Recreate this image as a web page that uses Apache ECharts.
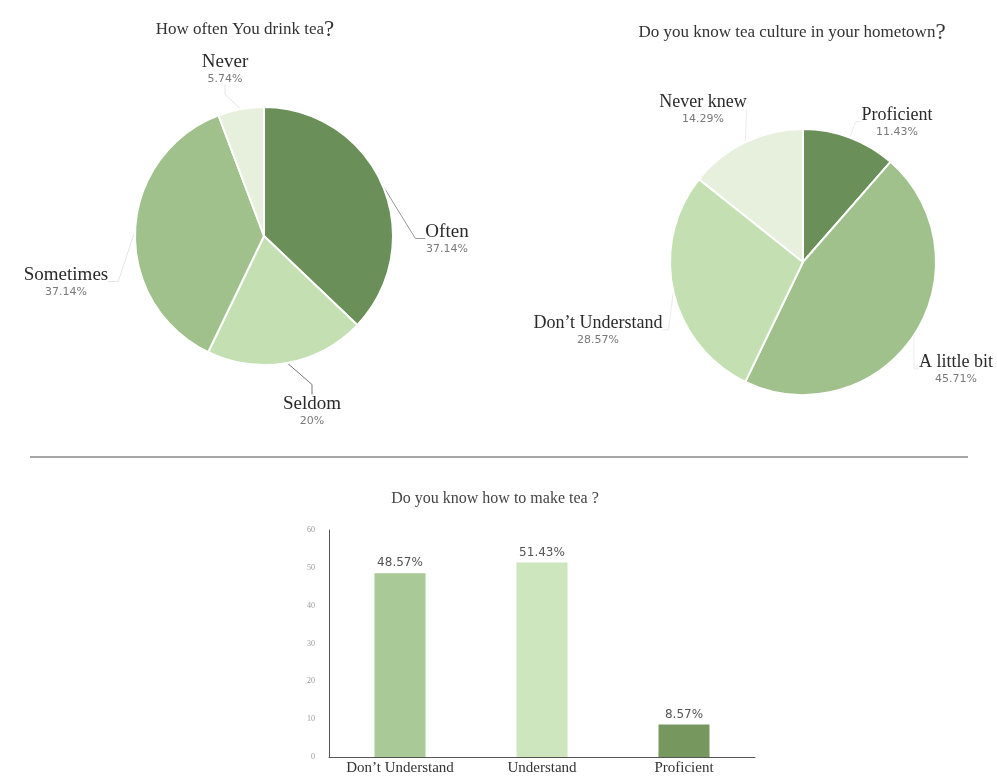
<!DOCTYPE html>
<html>
<head>
<meta charset="utf-8">
<script src="https://cdn.jsdelivr.net/npm/echarts@6/dist/echarts.min.js"></script>
<style>html,body{margin:0;padding:0;background:#fff;}#c{width:997px;height:778px;}</style>
</head>
<body>
<div id="c"></div>
<script>
// Pie 1: How often You drink tea?
const freqNames = ['Often', 'Seldom', 'Sometimes', 'Never'];
const freqValues = [37.14, 20, 37.14, 5.74];
// Pie 2: Do you know tea culture in your hometown?
const cultureNames = ['Proficient', 'A little bit', "Don\u2019t Understand", 'Never knew'];
const cultureValues = [11.43, 45.71, 28.57, 14.29];
// Bar: Do you know how to make tea ?
const makeCategories = ["Don\u2019t Understand", 'Understand', 'Proficient'];
const makeValues = [48.57, 51.43, 8.57];
const yTicks = [0, 10, 20, 30, 40, 50, 60];

// styling / layout (not data)
const dark = '#6b8f58', mid = '#a0c08c', light = '#c4dfb2', pale = '#e7f0dc';
const freqColors = [dark, light, mid, pale];
const cultureColors = [dark, mid, light, pale];
const barColors = ['#a9c996', '#cde6be', '#76985f'];
const freqLineColors = ['#999', '#777', '#e6e6e6', '#e6e6e6'];
const cultureLineColors = ['#ececec', '#ececec', '#ececec', '#ececec'];
const freqLabelPos = [[447, 222], [312, 394], [66, 265], [225, 52]];
const cultureLabelPos = [[897, 105], [956, 352], [598, 313], [703, 92]];

const serif = '"Liberation Serif", "DejaVu Serif", serif';
const sans = '"DejaVu Sans", sans-serif';

function pieLabel(size) {
  return {
    formatter: p => '{n|' + p.name + '}\n{p|' + p.value + '%}',
    overflow: 'none',
    rich: {
      n: { fontFamily: serif, fontSize: size, color: '#2a2a2a', lineHeight: 20, align: 'center' },
      p: { fontFamily: sans, fontSize: 11, color: '#7a7a7a', lineHeight: 14, align: 'center' }
    }
  };
}
function layoutFrom(pos) {
  return p => ({ x: pos[p.dataIndex][0], y: pos[p.dataIndex][1], align: 'center', verticalAlign: 'top' });
}

const titleRich = {
  t: { fontFamily: serif, fontSize: 17, color: '#333', fontWeight: 'normal' },
  q: { fontFamily: serif, fontSize: 23, color: '#333', fontWeight: 'normal' }
};

const chart = echarts.init(document.getElementById('c'), null, { renderer: 'canvas' });
chart.setOption({
  animation: false,
  backgroundColor: '#fff',
  title: [
    { text: '{t|How often You drink tea}{q|?}', left: 240, top: 13, textAlign: 'center',
      textStyle: { fontWeight: 'normal', rich: titleRich } },
    { text: '{t|Do you know tea culture in your hometown}{q|?}', left: 787, top: 16, textAlign: 'center',
      textStyle: { fontWeight: 'normal', rich: titleRich } },
    { text: 'Do you know how to make tea ?', left: 490, top: 486, textAlign: 'center',
      textStyle: { fontFamily: serif, fontSize: 16, fontWeight: 'normal', color: '#444' } }
  ],
  graphic: [
    { type: 'line', shape: { x1: 30, y1: 457, x2: 968, y2: 457 }, style: { stroke: '#8a8a8a', lineWidth: 1.5 } }
  ],
  grid: { left: 329, top: 530, width: 426, height: 227 },
  xAxis: {
    type: 'category', data: makeCategories,
    axisLine: { lineStyle: { color: '#555', width: 1 } },
    axisTick: { show: false },
    axisLabel: { fontFamily: serif, fontSize: 15, color: '#333', margin: 4 }
  },
  yAxis: {
    type: 'value', min: yTicks[0], max: yTicks[yTicks.length - 1], interval: yTicks[1] - yTicks[0],
    axisLine: { show: true, lineStyle: { color: '#555', width: 1 } },
    axisTick: { show: false },
    splitLine: { show: false },
    axisLabel: { fontFamily: serif, fontSize: 8, color: '#999', margin: 14 }
  },
  series: [
    {
      type: 'pie', center: [264, 236], radius: 129, startAngle: 90, clockwise: true,
      data: freqNames.map((n, i) => ({ name: n, value: freqValues[i], itemStyle: { color: freqColors[i] }, labelLine: { lineStyle: { color: freqLineColors[i] } } })),
      itemStyle: { borderColor: '#fff', borderWidth: 2 },
      label: pieLabel(19),
      labelLine: { length: 10, length2: 10, lineStyle: { width: 1 } },
      labelLayout: layoutFrom(freqLabelPos)
    },
    {
      type: 'pie', center: [803, 262], radius: 133, startAngle: 90, clockwise: true,
      data: cultureNames.map((n, i) => ({ name: n, value: cultureValues[i], itemStyle: { color: cultureColors[i] }, labelLine: { lineStyle: { color: cultureLineColors[i] } } })),
      itemStyle: { borderColor: '#fff', borderWidth: 2 },
      label: pieLabel(18),
      labelLine: { length: 8, length2: 6, lineStyle: { width: 1 } },
      labelLayout: layoutFrom(cultureLabelPos)
    },
    {
      type: 'bar', barWidth: 51,
      data: makeValues.map((v, i) => ({ value: v, itemStyle: { color: barColors[i] } })),
      label: { show: true, position: 'top', formatter: '{c}%', fontFamily: sans, fontSize: 12, color: '#555', distance: 4 }
    }
  ]
});
</script>
</body>
</html>
